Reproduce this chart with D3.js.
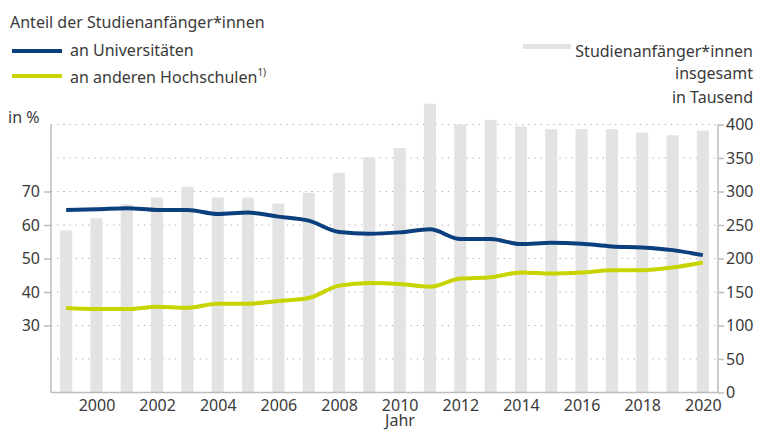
<!DOCTYPE html>
<html>
<head>
<meta charset="utf-8">
<title>Studienanfänger*innen</title>
<script src="https://d3js.org/d3.v7.min.js"></script>
<style>
  body { margin: 0; background: #fff; }
  svg { font-family: "Noto Sans", sans-serif; fill: #3a3a3a; }
  .grid line { stroke: #a8a8a8; stroke-dasharray: 1.2 5; }
  .axis path, .axis line { stroke: #bdbdbd; stroke-width: 1.5; }
  .axis text { font-family: "Noto Sans", sans-serif; font-size: 16px; fill: #3a3a3a; }
</style>
</head>
<body>
<svg id="chart" width="757" height="430"></svg>
<script>
const years = d3.range(1999, 2021);
// Studienanfänger*innen insgesamt, in Tausend
const total = [242, 260, 281, 291, 307, 291, 291, 282, 298, 328, 351, 365,
               431, 400, 407, 397, 393, 393, 393, 388, 384, 391];
// Anteil an Universitäten, in %
const uni = [64.5, 64.7, 65.0, 64.5, 64.5, 63.3, 63.7, 62.5, 61.3, 57.9, 57.4,
             57.8, 58.7, 55.8, 55.8, 54.3, 54.7, 54.4, 53.6, 53.3, 52.5, 51.0];
// Anteil an anderen Hochschulen, in %
const other = [35.2, 34.9, 34.9, 35.6, 35.3, 36.5, 36.5, 37.3, 38.2, 41.9, 42.7,
               42.4, 41.6, 44.0, 44.4, 45.8, 45.5, 45.8, 46.5, 46.5, 47.3, 48.8];
const pctTicks = [30, 40, 50, 60, 70];
const totalTicks = [0, 50, 100, 150, 200, 250, 300, 350, 400];
const yearTicks = [2000, 2002, 2004, 2006, 2008, 2010, 2012, 2014, 2016, 2018, 2020];

const svg = d3.select("#chart");
const mLeft = 51, mRight = 718, mTop = 124.5, mBottom = 392.5;

const x = d3.scaleBand().domain(years).range([mLeft, mRight]).paddingInner(0.6).paddingOuter(0.3);
const yR = d3.scaleLinear().domain([0, 400]).range([mBottom, mTop]);
const yL = d3.scaleLinear().domain([10, 90]).range([mBottom, mTop]);

// grid
svg.append("g").attr("class", "grid")
  .selectAll("line").data(totalTicks.slice(1))
  .join("line")
  .attr("x1", mLeft).attr("x2", mRight)
  .attr("y1", d => yR(d)).attr("y2", d => yR(d));

// bars
svg.append("g").selectAll("rect").data(years)
  .join("rect")
  .attr("x", d => x(d))
  .attr("width", x.bandwidth())
  .attr("y", (d, i) => yR(total[i]))
  .attr("height", (d, i) => mBottom - yR(total[i]))
  .attr("fill", "#e3e3e3");

// axes
const xc = d => x(d) + x.bandwidth() / 2;
const xAxis = svg.append("g").attr("class", "axis")
  .attr("transform", `translate(0,${mBottom})`)
  .call(d3.axisBottom(d3.scaleLinear().domain([1999, 2020]).range([xc(1999), xc(2020)]))
    .tickValues(yearTicks).tickFormat(d3.format("d")).tickSize(0).tickPadding(7));
xAxis.select(".domain").attr("d", `M${mLeft},0H${mRight}`);

const lAxis = svg.append("g").attr("class", "axis")
  .attr("transform", `translate(${mLeft},0)`)
  .call(d3.axisLeft(yL).tickValues(pctTicks).tickSize(7).tickPadding(4));
lAxis.select(".domain").attr("d", `M0,${mTop}V${mBottom}`);

const rAxis = svg.append("g").attr("class", "axis")
  .attr("transform", `translate(${mRight},0)`)
  .call(d3.axisRight(yR).tickValues(totalTicks).tickSize(6).tickPadding(2));
rAxis.select(".domain").attr("d", `M0,${mTop}V${mBottom}`);

// lines
const line = d3.line().x((d, i) => xc(years[i])).y(d => yL(d)).curve(d3.curveMonotoneX);
svg.append("path").datum(other).attr("d", line)
  .attr("fill", "none").attr("stroke", "#c8d400").attr("stroke-width", 4);
svg.append("path").datum(uni).attr("d", line)
  .attr("fill", "none").attr("stroke", "#0b3f7e").attr("stroke-width", 4);

// legend and titles
const t = (tx, ty, s, anchor) => svg.append("text")
  .attr("x", tx).attr("y", ty).attr("font-size", 16)
  .attr("text-anchor", anchor || "start").text(s);

t(10, 28, "Anteil der Studienanfänger*innen");
svg.append("line").attr("x1", 12).attr("x2", 62).attr("y1", 51).attr("y2", 51)
  .attr("stroke", "#0b3f7e").attr("stroke-width", 4);
t(70, 56, "an Universitäten");
svg.append("line").attr("x1", 12).attr("x2", 62).attr("y1", 76).attr("y2", 76)
  .attr("stroke", "#c8d400").attr("stroke-width", 4);
const h = t(70, 83, "an anderen Hochschulen");
h.append("tspan").attr("dy", -7).attr("font-size", 10).text("1)");
t(8, 123, "in %");

svg.append("rect").attr("x", 523).attr("y", 44).attr("width", 48).attr("height", 5).attr("fill", "#e3e3e3");
t(753, 57, "Studienanfänger*innen", "end");
t(753, 79, "insgesamt", "end");
t(753, 103, "in Tausend", "end");
t(400, 426, "Jahr", "middle");
</script>
</body>
</html>
